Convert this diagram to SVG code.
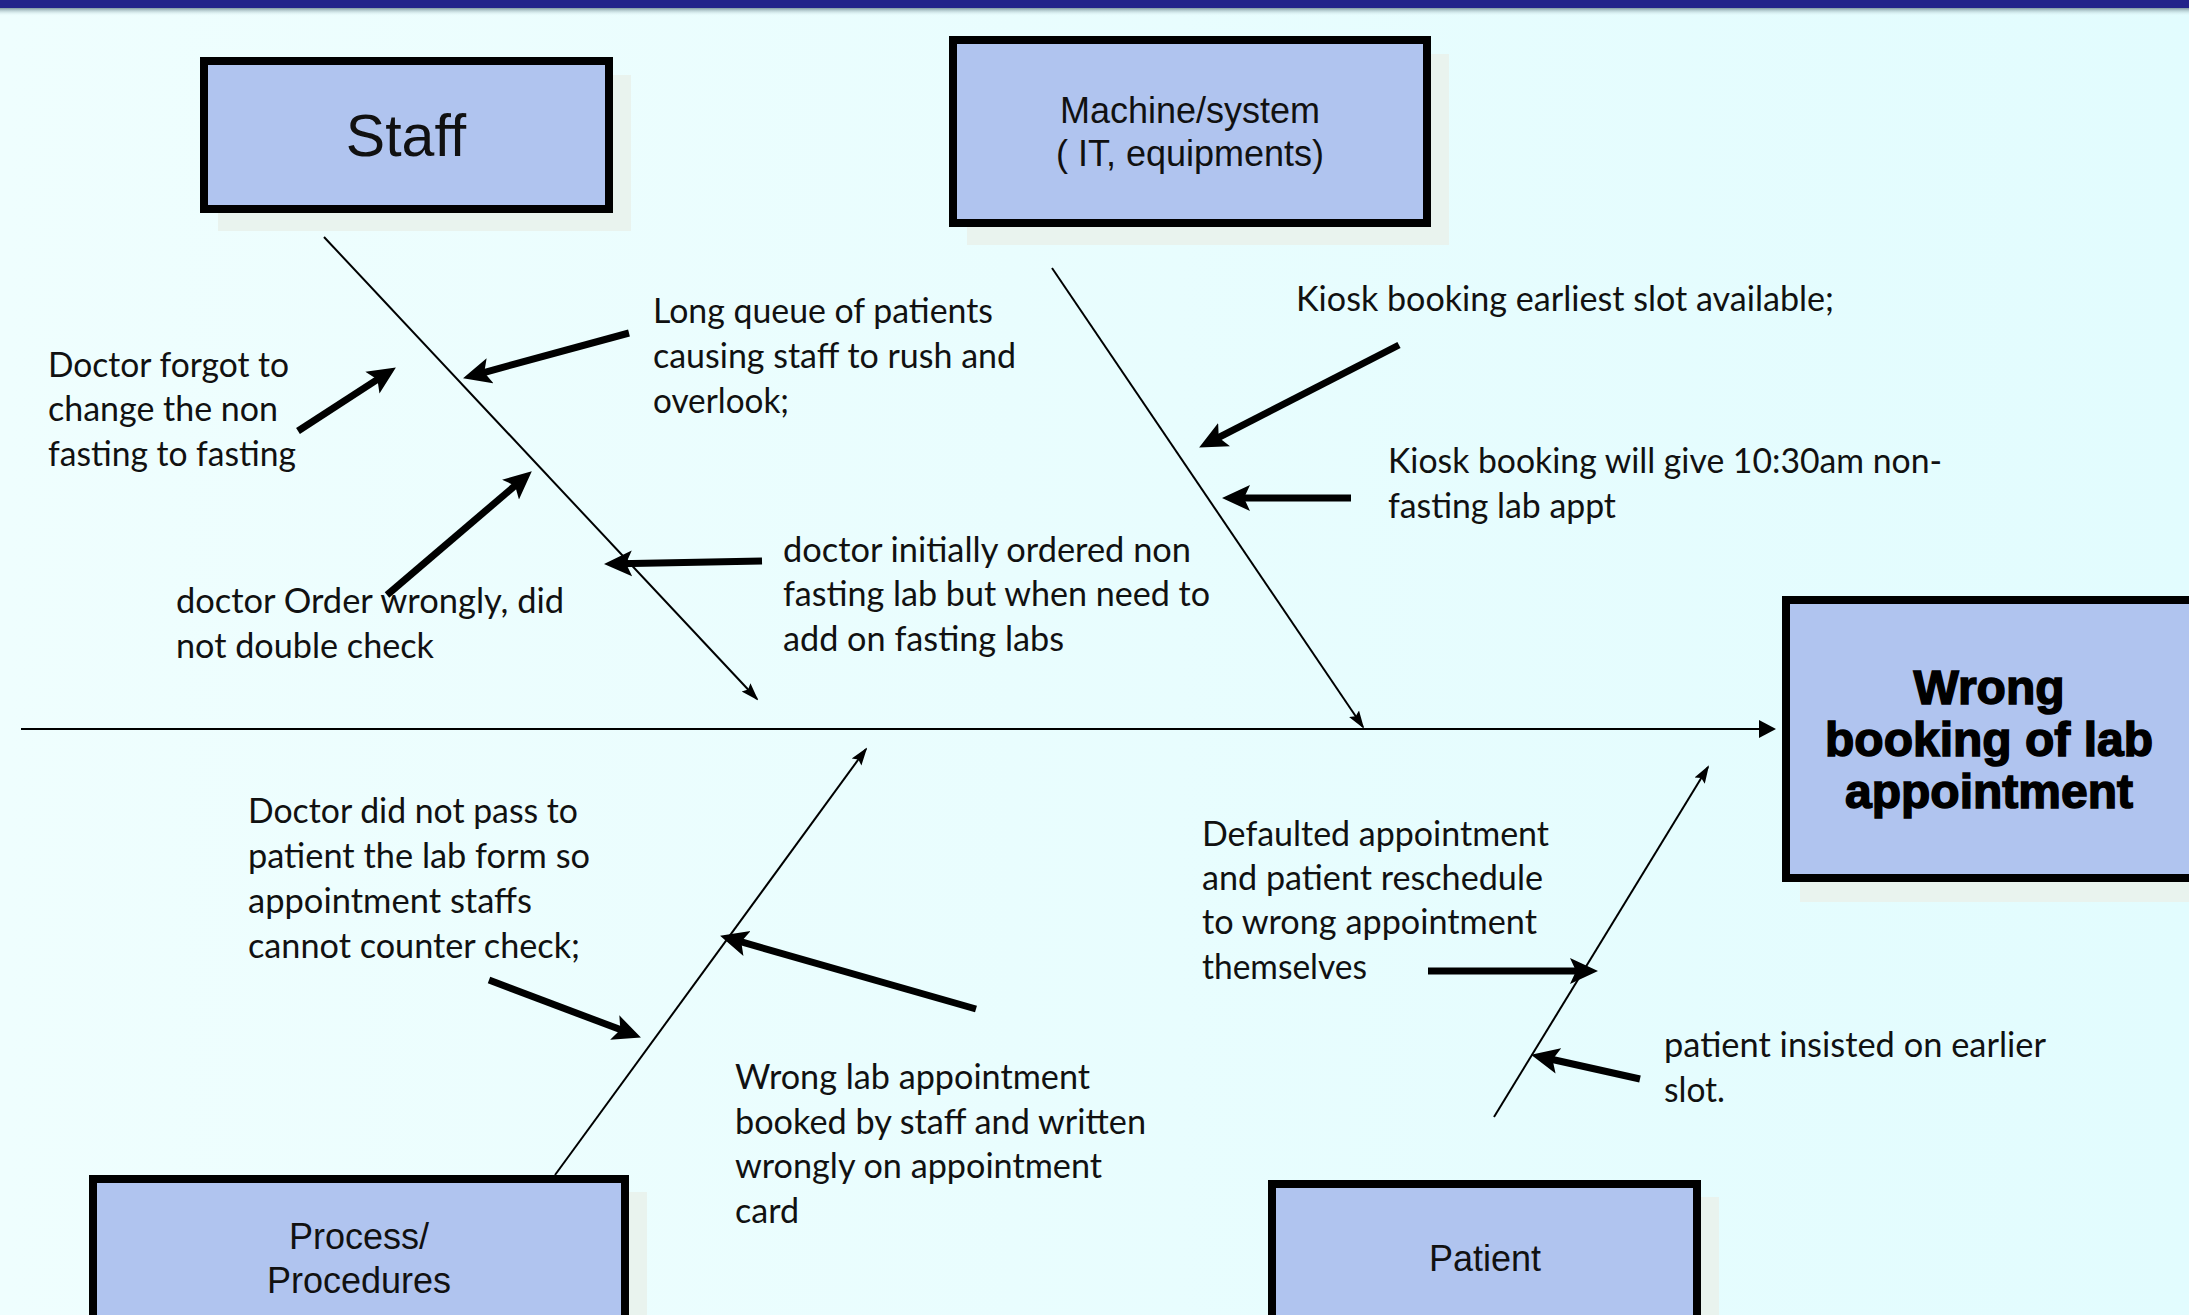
<svg xmlns="http://www.w3.org/2000/svg" width="2189" height="1315" viewBox="0 0 2189 1315">
  <style>
    .box { fill: #B0C4EF; stroke: #000; stroke-width: 8; }
    .shadow { fill: #E9F3EE; }
    .title { font-family: "Liberation Sans", Arial, sans-serif; fill: #111; text-anchor: middle; }
    .effect { font-family: "Liberation Sans", Arial, sans-serif; font-weight: bold; font-size: 48px; fill: #000; stroke: #000; stroke-width: 1.5; text-anchor: middle; }
    .lbl { font-family: Lato, "Open Sans", sans-serif; font-size: 34px; fill: #111; }
    .bone { stroke: #000; stroke-width: 2; fill: none; }
    .thick { stroke: #000; stroke-width: 7; fill: none; }
  </style>
  <defs>
    <linearGradient id="bg" x1="0" y1="0" x2="1" y2="0">
      <stop offset="0" stop-color="#EFFEFE"/>
      <stop offset="1" stop-color="#E2FCFE"/>
    </linearGradient>
    <linearGradient id="barShadow" x1="0" y1="0" x2="0" y2="1">
      <stop offset="0" stop-color="#7F98A0"/>
      <stop offset="1" stop-color="#E8FDFE" stop-opacity="0"/>
    </linearGradient>
    <marker id="thickHead" markerUnits="userSpaceOnUse" viewBox="0 -14 29 28" markerWidth="29" markerHeight="28" refX="13" refY="0" orient="auto">
      <path d="M0,-13 L28,0 L0,13 L6,0 Z" fill="#000"/>
    </marker>
    <marker id="thinHead" markerUnits="userSpaceOnUse" viewBox="0 -7 18 14" markerWidth="18" markerHeight="14" refX="16" refY="0" orient="auto">
      <path d="M0,-6 L18,0 L0,6 L3,0 Z" fill="#000"/>
    </marker>
    <marker id="spineHead" markerUnits="userSpaceOnUse" viewBox="0 -10 18 20" markerWidth="18" markerHeight="20" refX="14" refY="0" orient="auto">
      <path d="M0,-9 L17,0 L0,9 Z" fill="#000"/>
    </marker>
  </defs>

  <rect x="0" y="0" width="2189" height="1315" fill="url(#bg)"/>
  <rect x="0" y="8" width="2189" height="8" fill="url(#barShadow)"/>
  <rect x="0" y="0" width="2189" height="8" fill="#23238A"/>

  <g id="connectors">
    <line class="bone" x1="21" y1="729" x2="1773" y2="729" stroke-width="3" marker-end="url(#spineHead)"/>
    <line class="bone" x1="324" y1="237" x2="757" y2="699" marker-end="url(#thinHead)"/>
    <line class="bone" x1="1052" y1="268" x2="1363" y2="727" marker-end="url(#thinHead)"/>
    <line class="bone" x1="555" y1="1175" x2="866" y2="749" marker-end="url(#thinHead)"/>
    <line class="bone" x1="1494" y1="1117" x2="1708" y2="767" marker-end="url(#thinHead)"/>

    <line class="thick" x1="298" y1="431" x2="383.3" y2="375.6" marker-end="url(#thickHead)"/>
    <line class="thick" x1="629" y1="333" x2="477.5" y2="374.3" marker-end="url(#thickHead)"/>
    <line class="thick" x1="387" y1="595" x2="520.4" y2="481.1" marker-end="url(#thickHead)"/>
    <line class="thick" x1="762" y1="561" x2="619" y2="563.7" marker-end="url(#thickHead)"/>
    <line class="thick" x1="1399" y1="345" x2="1212.5" y2="440.6" marker-end="url(#thickHead)"/>
    <line class="thick" x1="1351" y1="498" x2="1237" y2="498" marker-end="url(#thickHead)"/>
    <line class="thick" x1="489" y1="980" x2="626.9" y2="1032.1" marker-end="url(#thickHead)"/>
    <line class="thick" x1="976" y1="1009" x2="734.5" y2="939.9" marker-end="url(#thickHead)"/>
    <line class="thick" x1="1428" y1="971" x2="1583" y2="971" marker-end="url(#thickHead)"/>
    <line class="thick" x1="1640" y1="1079" x2="1545.7" y2="1058" marker-end="url(#thickHead)"/>
  </g>

  <g id="staff">
    <rect class="shadow" x="218" y="75" width="413" height="156"/>
    <rect class="box" x="204" y="61" width="405" height="148"/>
    <text class="title" x="406" y="156" font-size="59">Staff</text>
  </g>

  <g id="machine">
    <rect class="shadow" x="967" y="54" width="482" height="191"/>
    <rect class="box" x="953" y="40" width="474" height="183"/>
    <text class="title" font-size="36"><tspan x="1190" y="123">Machine/system</tspan><tspan x="1190" y="166">( IT,  equipments)</tspan></text>
  </g>

  <g id="effect">
    <rect class="shadow" x="1800" y="618" width="420" height="284"/>
    <rect class="box" x="1786" y="600" width="420" height="278"/>
    <text class="effect"><tspan x="1989" y="704">Wrong</tspan><tspan x="1989" y="756">booking of lab</tspan><tspan x="1989" y="808">appointment</tspan></text>
  </g>

  <g id="process">
    <rect class="shadow" x="107" y="1192" width="540" height="200"/>
    <rect class="box" x="93" y="1179" width="532" height="200"/>
    <text class="title" font-size="36"><tspan x="359" y="1249">Process/</tspan><tspan x="359" y="1293">Procedures</tspan></text>
  </g>

  <g id="patient">
    <rect class="shadow" x="1286" y="1197" width="433" height="200"/>
    <rect class="box" x="1272" y="1184" width="425" height="200"/>
    <text class="title" x="1485" y="1271" font-size="36">Patient</text>
  </g>

  <g id="cause-doctor-forgot">
    <text class="lbl" x="48" y="377" textLength="241" lengthAdjust="spacingAndGlyphs">Doctor forgot to</text>
    <text class="lbl" x="48" y="421" textLength="230" lengthAdjust="spacingAndGlyphs">change the non</text>
    <text class="lbl" x="48" y="466" textLength="248" lengthAdjust="spacingAndGlyphs">fasting to fasting</text>
  </g>
  <g id="cause-long-queue">
    <text class="lbl" x="653" y="323" textLength="340" lengthAdjust="spacingAndGlyphs">Long queue of patients</text>
    <text class="lbl" x="653" y="368" textLength="363" lengthAdjust="spacingAndGlyphs">causing staff to rush and</text>
    <text class="lbl" x="653" y="413" textLength="136" lengthAdjust="spacingAndGlyphs">overlook;</text>
  </g>
  <g id="cause-doctor-order">
    <text class="lbl" x="176" y="613" textLength="388" lengthAdjust="spacingAndGlyphs">doctor Order wrongly, did</text>
    <text class="lbl" x="176" y="658" textLength="258" lengthAdjust="spacingAndGlyphs">not double check</text>
  </g>
  <g id="cause-initially-ordered">
    <text class="lbl" x="783" y="562" textLength="408" lengthAdjust="spacingAndGlyphs">doctor initially ordered non</text>
    <text class="lbl" x="783" y="606" textLength="427" lengthAdjust="spacingAndGlyphs">fasting lab but when need to</text>
    <text class="lbl" x="783" y="651" textLength="281" lengthAdjust="spacingAndGlyphs">add on fasting labs</text>
  </g>
  <g id="cause-kiosk-earliest">
    <text class="lbl" x="1296" y="311" textLength="538" lengthAdjust="spacingAndGlyphs">Kiosk booking earliest slot available;</text>
  </g>
  <g id="cause-kiosk-1030">
    <text class="lbl" x="1388" y="473" textLength="554" lengthAdjust="spacingAndGlyphs">Kiosk booking will give 10:30am non-</text>
    <text class="lbl" x="1388" y="518" textLength="228" lengthAdjust="spacingAndGlyphs">fasting lab appt</text>
  </g>
  <g id="cause-lab-form">
    <text class="lbl" x="248" y="823" textLength="330" lengthAdjust="spacingAndGlyphs">Doctor did not pass to</text>
    <text class="lbl" x="248" y="868" textLength="342" lengthAdjust="spacingAndGlyphs">patient the lab form so</text>
    <text class="lbl" x="248" y="913" textLength="284" lengthAdjust="spacingAndGlyphs">appointment staffs</text>
    <text class="lbl" x="248" y="958" textLength="332" lengthAdjust="spacingAndGlyphs">cannot counter check;</text>
  </g>
  <g id="cause-wrong-lab">
    <text class="lbl" x="735" y="1089" textLength="355" lengthAdjust="spacingAndGlyphs">Wrong lab appointment</text>
    <text class="lbl" x="735" y="1134" textLength="411" lengthAdjust="spacingAndGlyphs">booked by staff and written</text>
    <text class="lbl" x="735" y="1178" textLength="367" lengthAdjust="spacingAndGlyphs">wrongly on appointment</text>
    <text class="lbl" x="735" y="1223" textLength="64" lengthAdjust="spacingAndGlyphs">card</text>
  </g>
  <g id="cause-defaulted">
    <text class="lbl" x="1202" y="846" textLength="347" lengthAdjust="spacingAndGlyphs">Defaulted appointment</text>
    <text class="lbl" x="1202" y="890" textLength="341" lengthAdjust="spacingAndGlyphs">and patient reschedule</text>
    <text class="lbl" x="1202" y="934" textLength="335" lengthAdjust="spacingAndGlyphs">to wrong appointment</text>
    <text class="lbl" x="1202" y="979" textLength="165" lengthAdjust="spacingAndGlyphs">themselves</text>
  </g>
  <g id="cause-insisted">
    <text class="lbl" x="1664" y="1057" textLength="382" lengthAdjust="spacingAndGlyphs">patient insisted on earlier</text>
    <text class="lbl" x="1664" y="1102" textLength="61" lengthAdjust="spacingAndGlyphs">slot.</text>
  </g>
</svg>
